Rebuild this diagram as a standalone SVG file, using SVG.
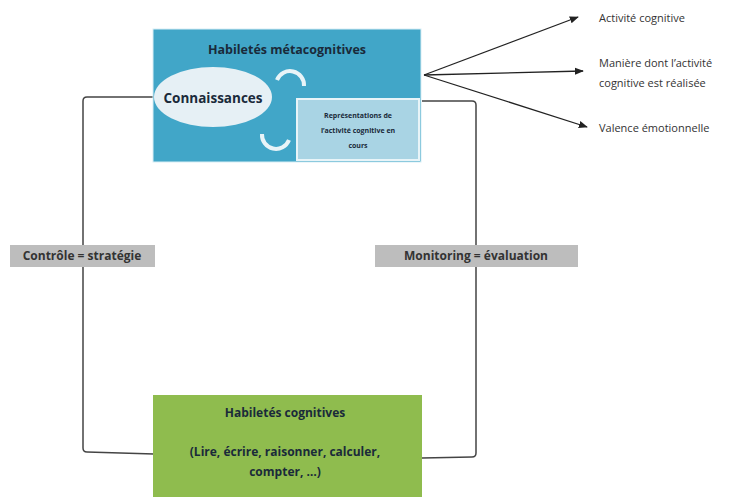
<svg xmlns="http://www.w3.org/2000/svg" width="742" height="497" viewBox="0 0 742 497">
<style>
.lbl{font-family:"Open Sans","Liberation Sans",sans-serif;font-weight:bold;fill:#1a2a3a}
.side{font-family:"Open Sans","Liberation Sans",sans-serif;font-size:11px;fill:#333}
.conn{fill:none;stroke:#444;stroke-width:1.5}
.arr{stroke:#222;stroke-width:1.3;fill:none}
.tag{fill:#bdbdbd}
.tagt{font-family:"Open Sans","Liberation Sans",sans-serif;font-weight:bold;font-size:12px;fill:#333;text-anchor:middle}
</style>
<defs>
<marker id="ah" viewBox="0 0 10 10" refX="9" refY="5" markerWidth="7" markerHeight="7" orient="auto"><path d="M0,1 L10,5 L0,9 z" fill="#222"/></marker>
</defs>
<rect width="742" height="497" fill="#fff"/>
<g id="connectors">
<path class="conn" d="M153,97 L87,97 Q83,97 83,101 L83,448 Q83,452 87,452 L154,454"/>
<path class="conn" d="M422,101 L472,101 Q476,101 476,105 L476,453 Q476,457 472,457 L422,458"/>
<path class="arr" d="M424,75 L578,17" marker-end="url(#ah)"/>
<path class="arr" d="M424,75 L583,71" marker-end="url(#ah)"/>
<path class="arr" d="M424,75 L587,127" marker-end="url(#ah)"/>
</g>
<g id="meta">
<rect x="153" y="29" width="268" height="133" fill="#41a6c8" stroke="#d8eef5" stroke-width="1"/>
<text class="lbl" x="287" y="54" font-size="12.5" text-anchor="middle">Habiletés métacognitives</text>
</g>
<g id="connaissances">
<ellipse cx="213" cy="97" rx="59" ry="30" fill="#e6f0f5"/>
<text class="lbl" x="213" y="103" font-size="13.5" text-anchor="middle">Connaissances</text>
</g>
<g id="cycle">
<path d="M277,80 A14,14 0 0 1 304,86" fill="none" stroke="#e8f4f8" stroke-width="4"/>
<path d="M262,134 A14,14 0 0 0 289,140" fill="none" stroke="#e8f4f8" stroke-width="4"/>
</g>
<g id="representations">
<rect x="297" y="99" width="122" height="61" fill="#a9d4e4" stroke="#e8f4f8" stroke-width="2"/>
<text class="lbl" font-size="7" text-anchor="middle"><tspan x="358" y="118">Représentations de</tspan><tspan x="358" y="133">l’activité cognitive en</tspan><tspan x="358" y="148">cours</tspan></text>
</g>
<g id="cognitives">
<rect x="153" y="395" width="269" height="102" fill="#8fbc4e"/>
<text class="lbl" x="285" y="417" font-size="12" text-anchor="middle">Habiletés cognitives</text>
<text class="lbl" x="285" y="456" font-size="12" text-anchor="middle">(Lire, écrire, raisonner, calculer,</text>
<text class="lbl" x="285" y="476" font-size="12" text-anchor="middle">compter, …)</text>
</g>
<g id="controle">
<rect class="tag" x="10" y="245" width="145" height="22"/>
<text class="tagt" x="82" y="260">Contrôle = stratégie</text>
</g>
<g id="monitoring">
<rect class="tag" x="375" y="245" width="203" height="22"/>
<text class="tagt" x="476" y="260">Monitoring = évaluation</text>
</g>
<g id="outputs">
<text class="side" x="599" y="22">Activité cognitive</text>
<text class="side" x="599" y="67">Manière dont l’activité</text>
<text class="side" x="599" y="87">cognitive est réalisée</text>
<text class="side" x="599" y="132">Valence émotionnelle</text>
</g>
</svg>
